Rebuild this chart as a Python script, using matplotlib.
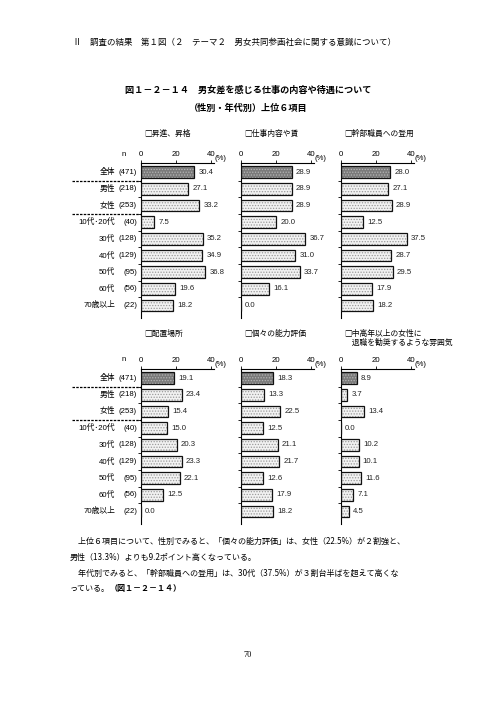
import matplotlib
matplotlib.use("Agg")
import matplotlib.pyplot as plt
import matplotlib.transforms as mtransforms

plt.rcParams['font.family'] = ['Noto Sans CJK JP', 'DejaVu Sans']
plt.rcParams['hatch.linewidth'] = 0.6

# ---------------- data ----------------
groups = ["全体", "男性", "女性", "10代･20代", "30代", "40代", "50代", "60代", "70歳以上"]
group_n = ["(471)", "(218)", "(253)", "(40)", "(128)", "(129)", "(95)", "(56)", "(22)"]

titles = ["□昇進、昇格", "□仕事内容や賃", "□幹部職員への登用",
          "□配置場所", "□個々の能力評価", "□中高年以上の女性に\n　退職を勧奨するような雰囲気"]

promotion = [30.4, 27.1, 33.2, 7.5, 35.2, 34.9, 36.8, 19.6, 18.2]
work_wage = [28.9, 28.9, 28.9, 20.0, 36.7, 31.0, 33.7, 16.1, 0.0]
executive = [28.0, 27.1, 28.9, 12.5, 37.5, 28.7, 29.5, 17.9, 18.2]
placement = [19.1, 23.4, 15.4, 15.0, 20.3, 23.3, 22.1, 12.5, 0.0]
ability = [18.3, 13.3, 22.5, 12.5, 21.1, 21.7, 12.6, 17.9, 18.2]
retirement = [8.9, 3.7, 13.4, 0.0, 10.2, 10.1, 11.6, 7.1, 4.5]

series = [promotion, work_wage, executive, placement, ability, retirement]
xticks = [0, 20, 40]

header = "Ⅱ　調査の結果　第１図（２　テーマ２　男女共同参画社会に関する意識について）"
title1 = "図１－２－１４　男女差を感じる仕事の内容や待遇について"
title2 = "（性別・年代別）上位６項目"
body = ["　上位６項目について、性別でみると、「個々の能力評価」は、女性（22.5%）が２割強と、",
        "男性（13.3%）よりも9.2ポイント高くなっている。",
        "　年代別でみると、「幹部職員への登用」は、30代（37.5%）が３割台半ばを超えて高くな",
        "っている。"]
body_ref = "（図１－２－１４）"
page_no = "70"

# ---------------- layout ----------------
W, H = 496, 702
fig = plt.figure(figsize=(W / 100, H / 100), dpi=100)
fig.patch.set_facecolor("white")

def fx(x):
    return x / W

def fy(y):
    return 1 - y / H

PX_PER_UNIT = 1.75
XMAX = 41.5
ax_w = XMAX * PX_PER_UNIT
col_x0 = [141, 241, 341]
row_top = [163, 369]
ax_h = 155
YLIM = (8.75, -0.55)

NUMFONT = ['Liberation Sans', 'Noto Sans CJK JP']
FS = 5.6

fig.text(fx(73), fy(42), header, fontsize=6.1, va="center", ha="left")
fig.text(fx(248), fy(90), title1, fontsize=6.6, va="center", ha="center", weight="bold")
fig.text(fx(248), fy(108), title2, fontsize=6.6, va="center", ha="center", weight="bold")

for k, vals in enumerate(series):
    r, c = divmod(k, 3)
    left = col_x0[c]
    top = row_top[r]
    ax = fig.add_axes([fx(left), fy(top + ax_h), fx(ax_w), ax_h / H])
    ax.set_xlim(0, XMAX)
    ax.set_ylim(*YLIM)
    ypos = list(range(len(groups)))
    faces = ["#7a7a7a"] + ["#f2f2f2"] * (len(groups) - 1)
    dots = ["#b5b5b5"] + ["#9a9a9a"] * (len(groups) - 1)
    for i in ypos:
        ax.barh(i, vals[i], height=0.7, color=faces[i], edgecolor=dots[i],
                linewidth=0, hatch="......", zorder=2)
    ax.barh(ypos, vals, height=0.7, fill=False, edgecolor="#111111",
            linewidth=0.9, zorder=3)
    for i, v in enumerate(vals):
        ax.annotate(f"{v:.1f}", (v, i), xytext=(3, 0), textcoords="offset points",
                    va="center", ha="left", fontsize=FS, family=NUMFONT, color="#222222")
    for s in ["right", "bottom"]:
        ax.spines[s].set_visible(False)
    ax.spines["left"].set_linewidth(0.8)
    ax.spines["top"].set_linewidth(0.8)
    ax.spines["top"].set_bounds(0, XMAX)
    ax.xaxis.tick_top()
    ax.set_xticks(xticks)
    ax.set_xticklabels([str(t) for t in xticks], fontsize=FS, family=NUMFONT)
    ax.tick_params(axis="x", length=2, width=0.6, pad=1.5)
    ax.set_yticks([i + 0.5 for i in range(len(groups) - 1)])
    ax.set_yticklabels([])
    ax.tick_params(axis="y", length=2, width=0.6, direction="out")
    ax.text(XMAX + 0.3, -0.6, "(%)", fontsize=FS, family=NUMFONT, va="bottom", ha="left")
    ax.patch.set_alpha(0)
    # panel title
    fig.text(fx(left + 3), fy(top - 33 if r == 0 else top - 39), titles[k], fontsize=FS,
             va="top", ha="left", linespacing=1.15)
    if c == 0:
        tr = mtransforms.blended_transform_factory(fig.transFigure, ax.transData)
        for i, (g, n) in enumerate(zip(groups, group_n)):
            ax.text(fx(137), i, n, transform=tr, fontsize=FS, ha="right", va="center",
                    family=NUMFONT)
            ax.text(fx(115), i, g, transform=tr, fontsize=FS, ha="right", va="center",
                    family=NUMFONT)
        for yb in (0.5, 2.5):
            ax.plot([fx(72), fx(left)], [yb, yb], transform=tr, color="black",
                    linestyle=(0, (2, 1)), linewidth=0.9, clip_on=False)
        fig.text(fx(124), fy(top - 9), "n", fontsize=FS, ha="center", va="center",
                 family=NUMFONT)

ys = [541, 557, 573, 588]
for i, line in enumerate(body):
    t = fig.text(fx(70), fy(ys[i]), line, fontsize=5.8, va="center", ha="left")
# bold reference after last line
fig.canvas.draw()
renderer = fig.canvas.get_renderer()
last = fig.texts[-1]
bb = last.get_window_extent(renderer)
fig.text(bb.x1 / fig.dpi / fig.get_figwidth(), fy(ys[-1]), body_ref, fontsize=5.8,
         va="center", ha="left", weight="bold")
fig.text(fx(248), fy(655), page_no, fontsize=6, va="center", ha="center",
         family=['Liberation Serif', 'Noto Sans CJK JP'])

fig.savefig("out.png", dpi=100, facecolor="white")
